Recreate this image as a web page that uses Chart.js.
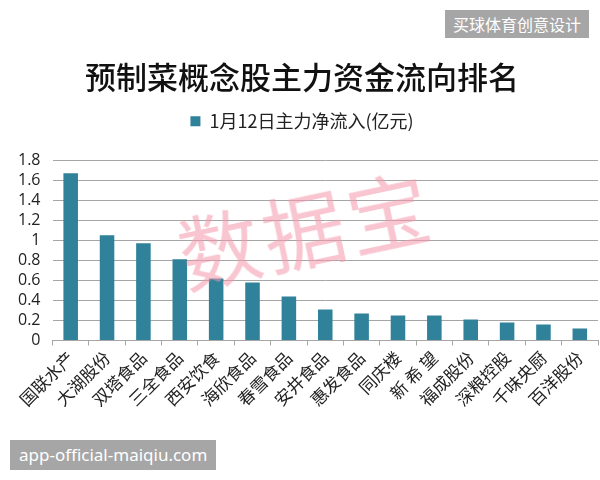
<!DOCTYPE html>
<html>
<head>
<meta charset="utf-8">
<script src="https://cdn.jsdelivr.net/npm/chart.js@4"></script>
<style>
    html, body { margin: 0; padding: 0; background: #fff; }
    #wrap { position: relative; width: 600px; height: 480px; overflow: hidden; }
    .badge {
        position: absolute; background: #a6a6a6; color: #fff;
        font-family: 'Noto Sans CJK SC', 'Noto Sans', sans-serif; font-size: 16px;
        line-height: 28px; padding: 0 8px;
    }
    #stamp {
        position: absolute; left: 176px; top: 186px; transform: rotate(-12deg);
        font-family: 'Noto Sans CJK SC', sans-serif; font-size: 82px; line-height: 1;
        color: rgba(244, 150, 170, 0.55); letter-spacing: 4px; pointer-events: none;
    }
</style>
</head>
<body>
<div id="wrap">
    <canvas id="flowChart" width="600" height="480"></canvas>
    <div id="stamp">数据宝</div>
    <div class="badge" style="left:445px; top:10px;">买球体育创意设计</div>
    <div class="badge" style="left:10px; top:440px; font-family:'Noto Sans', sans-serif; font-size:17px; line-height:30px; padding:0 9px;">app-official-maiqiu.com</div>
</div>
<script>
// ===== Data =====
const stocks = ['国联水产', '大湖股份', '双塔食品', '三全食品', '西安饮食', '海欣食品', '春雪食品',
    '安井食品', '惠发食品', '同庆楼', '新 希 望', '福成股份', '深粮控股', '千味央厨', '百洋股份'];
const netInflow = [1.67, 1.05, 0.97, 0.81, 0.62, 0.58, 0.44, 0.31, 0.27, 0.25, 0.25, 0.21, 0.18, 0.16, 0.12];
const yTicks = [0, 0.2, 0.4, 0.6, 0.8, 1, 1.2, 1.4, 1.6, 1.8];

const barColor = '#2f8299';
const gridColor = '#a6a6a6';
const cjkFont = "'Noto Sans CJK SC', sans-serif";

// extra space between legend and plot area
const legendGap = {
    id: 'legendGap',
    beforeInit(chart) {
        const fit = chart.legend.fit;
        chart.legend.fit = function () {
            fit.call(this);
            this.height += 20;
        };
    }
};

new Chart(document.getElementById('flowChart'), {
    type: 'bar',
    data: {
        labels: stocks,
        datasets: [{
            label: '1月12日主力净流入(亿元)',
            data: netInflow,
            backgroundColor: barColor,
            borderWidth: 0,
            categoryPercentage: 1,
            barPercentage: 0.4
        }]
    },
    options: {
        responsive: false,
        animation: false,
        layout: { padding: { left: 6, right: 2, bottom: 68 } },
        plugins: {
            title: {
                display: true,
                text: '预制菜概念股主力资金流向排名',
                color: '#111',
                font: { family: cjkFont, size: 31, weight: '500' },
                padding: { top: 59, bottom: 4 }
            },
            legend: {
                display: true,
                labels: {
                    boxWidth: 10,
                    boxHeight: 10,
                    color: '#222',
                    font: { family: cjkFont, size: 18 },
                    padding: 12
                }
            },
            tooltip: { enabled: false }
        },
        scales: {
            x: {
                offset: true,
                grid: { drawOnChartArea: false, drawTicks: true, tickLength: 5, color: gridColor },
                border: { color: gridColor },
                ticks: {
                    minRotation: 45,
                    maxRotation: 45,
                    color: '#222',
                    font: { family: cjkFont, size: 17 },
                    padding: 2
                }
            },
            y: {
                min: 0,
                max: 1.8,
                afterBuildTicks: (axis) => { axis.ticks = yTicks.map(v => ({ value: v })); },
                grid: { color: gridColor, drawTicks: false },
                border: { display: false },
                ticks: {
                    autoSkip: false,
                    color: '#222',
                    padding: 12,
                    font: { family: "'Open Sans', sans-serif", size: 16 },
                    callback: (value) => String(value)
                }
            }
        }
    },
    plugins: [legendGap]
});
</script>
</body>
</html>
